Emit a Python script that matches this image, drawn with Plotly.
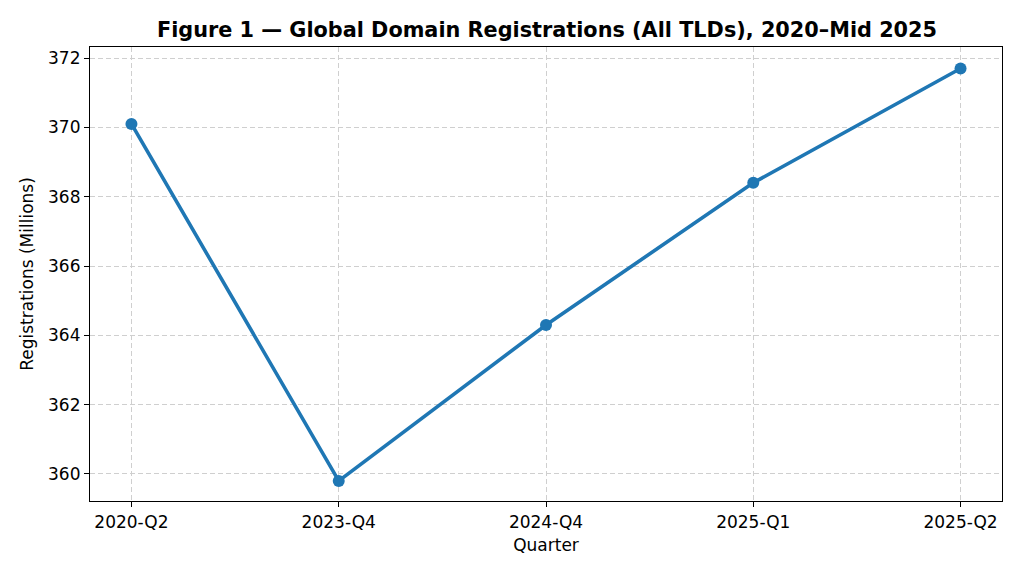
import plotly.graph_objects as go

quarters = ["2020-Q2", "2023-Q4", "2024-Q4", "2025-Q1", "2025-Q2"]
registrations = [370.1, 359.8, 364.3, 368.4, 371.7]
y_ticks = [360, 362, 364, 366, 368, 370, 372]

fig = go.Figure()
fig.add_trace(go.Scatter(
    x=list(range(len(quarters))), y=registrations, mode="lines+markers",
    line=dict(color="#1f77b4", width=3.6),
    marker=dict(color="#1f77b4", size=12),
    showlegend=False,
))

font = "DejaVu Sans"
axis_common = dict(
    showline=True, linecolor="black", linewidth=1.2, mirror=True,
    ticks="outside", ticklen=5, tickwidth=1.2, tickcolor="black",
    showgrid=True, gridcolor="#cfcfcf", griddash="5px,3px", gridwidth=1,
    zeroline=False, tickfont=dict(family=font, size=17, color="black"),
)
fig.update_xaxes(
    **axis_common, range=[-0.2, 4.2],
    tickmode="array", tickvals=list(range(len(quarters))), ticktext=quarters,
    title=dict(text="Quarter", font=dict(family=font, size=17, color="black"), standoff=8),
)
fig.update_yaxes(
    **axis_common, range=[359.22, 372.32],
    tickmode="array", tickvals=y_ticks, ticktext=[str(v) for v in y_ticks],
    title=dict(text="Registrations (Millions)", font=dict(family=font, size=17, color="black"), standoff=10),
)
fig.update_layout(
    width=1008, height=560,
    margin=dict(l=82, r=14, t=39, b=67),
    plot_bgcolor="white", paper_bgcolor="white",
    title=dict(text="<b>Figure 1 — Global Domain Registrations (All TLDs), 2020–Mid 2025</b>",
               font=dict(family=font, size=20.8, color="black"),
               x=(547 - 8) / 1008, xanchor="center", y=1 - (30 - 8) / 560, yanchor="middle"),
)
fig.write_html("out.html")
